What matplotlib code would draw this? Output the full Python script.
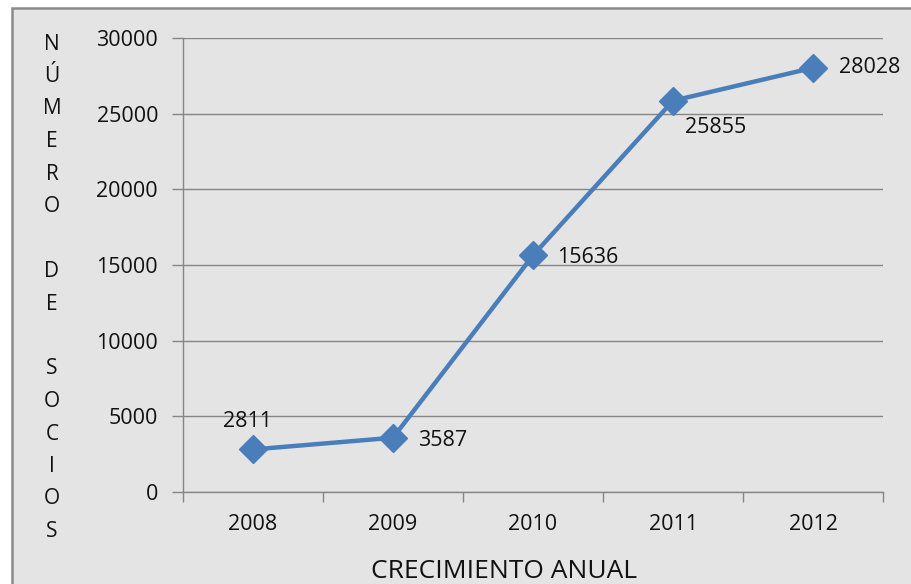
import matplotlib
matplotlib.use("Agg")
import matplotlib.pyplot as plt
from matplotlib.patches import Rectangle

years = ["2008", "2009", "2010", "2011", "2012"]
socios = [2811, 3587, 15636, 25855, 28028]
y_ticks = [0, 5000, 10000, 15000, 20000, 25000, 30000]
y_label_letters = ["N", "Ú", "M", "E", "R", "O", "", "D", "E", "", "S", "O", "C", "I", "O", "S"]
x_title = "CRECIMIENTO ANUAL"
# label offsets in pixels (dx, dy, ha)
label_offsets = [(-6, 28, "center"), (25, -3, "left"), (24, -2, "left"), (12, -27, "left"), (26, 0, "left")]

W, H = 911, 584
FS = 15.5
TXT = "#111111"
plt.rcParams['font.family'] = ['Open Sans', 'DejaVu Sans']
fig = plt.figure(figsize=(W / 100, H / 100), dpi=100)
fig.patch.set_facecolor("white")

# background panel with border
bgax = fig.add_axes([0, 0, 1, 1], zorder=-10)
bgax.set_xlim(0, W)
bgax.set_ylim(H, 0)
bgax.axis("off")
bgax.add_patch(Rectangle((12, 8), W, H, facecolor="#e4e4e4", edgecolor="#8a8a8a", linewidth=1.8))

ax = fig.add_axes([183 / W, (H - 492) / H, (883 - 183) / W, (492 - 38) / H])
ax.set_facecolor("none")

xs = list(range(len(years)))
ax.plot(xs, socios, color="#4A7EBB", linewidth=3.2, marker="D", markersize=14.5,
        markerfacecolor="#4A7EBB", markeredgecolor="#4A7EBB", zorder=3, clip_on=False)

for x, v, (dx, dy, ha) in zip(xs, socios, label_offsets):
    ax.annotate(str(v), (x, v), xytext=(dx, dy), textcoords="offset pixels",
                ha=ha, va="center", fontsize=FS, color=TXT)

ax.set_xlim(-0.5, len(years) - 0.5)
ax.set_ylim(0, 30000)
ax.set_yticks(y_ticks)
ax.set_yticklabels([str(t) for t in y_ticks])
ax.grid(axis="y", color="#868686", linewidth=1.0)
ax.set_axisbelow(True)

ax.set_xticks([i - 0.5 for i in range(len(years) + 1)])
ax.set_xticklabels([])
ax.set_xticks(xs, minor=True)
ax.set_xticklabels(years, minor=True)
ax.tick_params(axis="x", which="major", length=7, width=1, color="#868686", direction="out")
ax.tick_params(axis="x", which="minor", length=0, pad=16, labelsize=FS, labelcolor=TXT)
ax.tick_params(axis="y", length=8, width=1, color="#868686", pad=10, labelsize=FS, labelcolor=TXT)

for s in ["top", "right"]:
    ax.spines[s].set_visible(False)
for s in ["left", "bottom"]:
    ax.spines[s].set_color("#868686")
    ax.spines[s].set_linewidth(1.0)

# vertical stacked y-axis label
y0, step = 44, 32.5
for i, ch in enumerate(y_label_letters):
    if ch:
        fig.text(52 / W, 1 - (y0 + i * step) / H, ch, ha="center", va="center",
                 fontsize=15, color=TXT)

fig.text(504 / W, 1 - 571 / H, x_title, ha="center", va="center", fontsize=19, color=TXT)

fig.savefig("out.png", dpi=100)
